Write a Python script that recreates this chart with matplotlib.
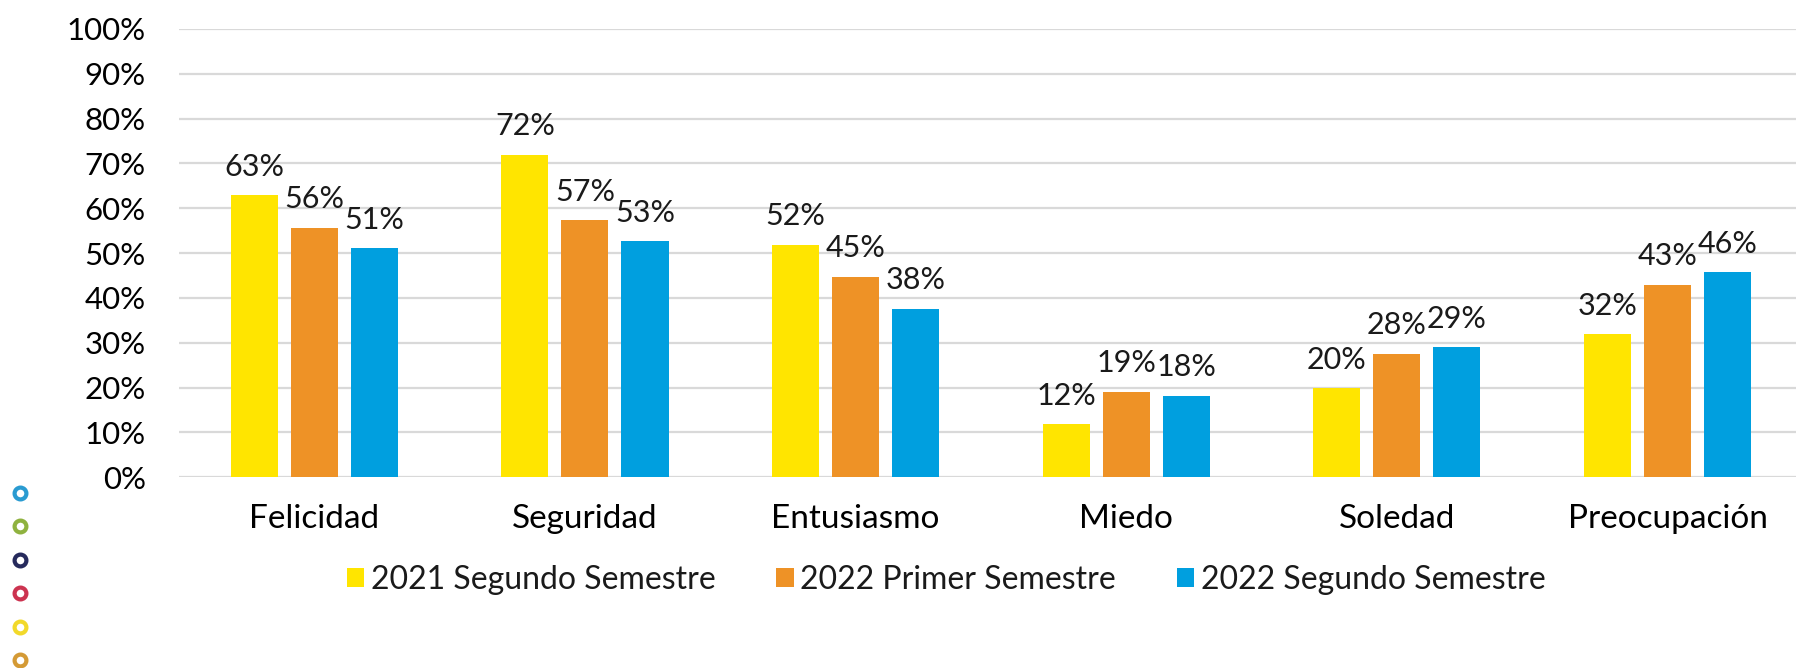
import numpy as np
import matplotlib
matplotlib.use('Agg')
import matplotlib.pyplot as plt
from matplotlib.lines import Line2D
from matplotlib.patches import Patch
from matplotlib.ticker import PercentFormatter

# data
categories = ['Felicidad', 'Seguridad', 'Entusiasmo', 'Miedo', 'Soledad', 'Preocupación']
series_names = ['2021 Segundo Semestre', '2022 Primer Semestre', '2022 Segundo Semestre']
s2021_2 = [0.629, 0.720, 0.519, 0.118, 0.199, 0.319]
s2022_1 = [0.557, 0.573, 0.447, 0.191, 0.276, 0.430]
s2022_2 = [0.511, 0.527, 0.376, 0.182, 0.290, 0.457]
y_ticks = [0.0, 0.1, 0.2, 0.3, 0.4, 0.5, 0.6, 0.7, 0.8, 0.9, 1.0]

colors = ['#FFE500', '#EE9226', '#009FDF']
dot_colors = ['#2a9bd1', '#8fb23f', '#262a5c', '#cc3350', '#f2d92a', '#d49a35']

plt.rcParams['font.family'] = ['Lato', 'DejaVu Sans']
plt.rcParams['text.color'] = '#1a1a1a'

fig = plt.figure(figsize=(17.96, 6.68), dpi=100)
ax = fig.add_axes([179 / 1796, 1 - 477.3 / 668, 1 - 179 / 1796, (477.3 - 29) / 668])

x = np.arange(len(categories))
width = 0.174
step = 0.222
all_series = [s2021_2, s2022_1, s2022_2]
for i, (vals, name, c) in enumerate(zip(all_series, series_names, colors)):
    pos = x + (i - 1) * step
    ax.bar(pos, vals, width, color=c, label=name, zorder=3)
    for px, v in zip(pos, vals):
        ax.annotate('{:.0f}%'.format(round(v * 100)), (px, v), xytext=(0, 14),
                    textcoords='offset points', ha='center', va='baseline',
                    fontsize=22, color='#1a1a1a')

ax.set_xlim(-0.5, 5.475)
ax.set_ylim(0, 1.0)
ax.set_yticks(y_ticks)
ax.yaxis.set_major_formatter(PercentFormatter(1.0, decimals=0))
ax.set_xticks(x)
ax.set_xticklabels(categories)
ax.tick_params(axis='y', length=0, pad=24, labelsize=22.5)
ax.tick_params(axis='x', length=0, pad=19, labelsize=24)
ax.grid(axis='y', color='#d9d9d9', linewidth=1.6, zorder=0)
ax.set_axisbelow(True)
for sp in ax.spines.values():
    sp.set_visible(False)

handles = [Patch(facecolor=c, edgecolor='none') for c in colors]
fig.legend(handles, series_names, loc='center', bbox_to_anchor=(946 / 1796, 1 - 580 / 668),
           ncol=3, frameon=False, fontsize=23, handlelength=0.55, handleheight=0.55,
           handletextpad=0.2, columnspacing=1.9)

# decorative rings down the left edge
for k, c in enumerate(dot_colors):
    fig.add_artist(Line2D([20 / 1796], [1 - (493 + k * 33.4) / 668], transform=fig.transFigure,
                          marker='o', markersize=8.5, markerfacecolor='white',
                          markeredgecolor=c, markeredgewidth=3, linestyle='None'))

fig.savefig('out.png', dpi=100)
plt.close(fig)
